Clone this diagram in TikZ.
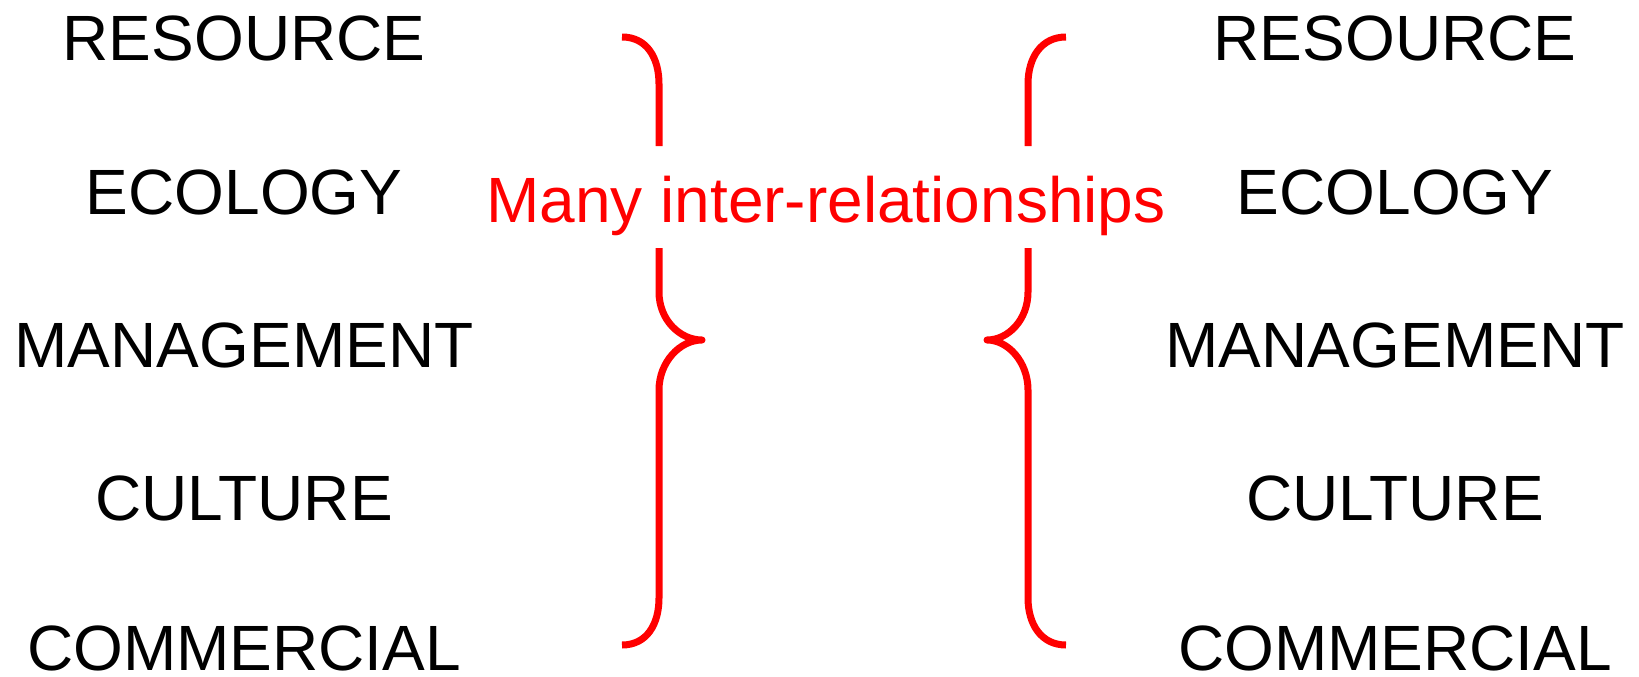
\documentclass[tikz,border=0pt]{standalone}
\usepackage{fontspec}
\setmainfont{Liberation Sans}
\begin{document}
\begin{tikzpicture}[x=1pt,y=-1pt,
  word/.style={anchor=base,inner sep=0pt,font=\fontsize{64}{70}\selectfont},
  brace/.style={draw=red,line width=7pt,line cap=butt,line join=round}]
\useasboundingbox[fill=white] (0,0) rectangle (1639,677);
% left column
\node[word] (lres) at (244,61) {RESOURCE};
\node[word] (leco) at (244,214) {ECOLOGY};
\node[word] (lman) at (244,367) {MANAGEMENT};
\node[word] (lcul) at (244,520) {CULTURE};
\node[word] (lcom) at (244,670) {COMMERCIAL};
% right column
\node[word] (rres) at (1395,61) {RESOURCE};
\node[word] (reco) at (1395,214) {ECOLOGY};
\node[word] (rman) at (1395,367) {MANAGEMENT};
\node[word] (rcul) at (1395,520) {CULTURE};
\node[word] (rcom) at (1395,670) {COMMERCIAL};
% middle label
\node[word,text=red] (mid) at (826,222) {Many inter-relationships};
% left brace
\draw[brace] (622,37) .. controls (647,37) and (659,58) .. (659,84) -- (659,146);
\draw[brace] (659,248) -- (659,292)
  .. controls (659,320) and (680,340) .. (702,340)
  .. controls (680,340) and (659,362) .. (659,390)
  -- (659,598) .. controls (659,624) and (647,645) .. (622,645);
% right brace
\draw[brace] (1066,37) .. controls (1041,37) and (1028,58) .. (1028,84) -- (1028,146);
\draw[brace] (1028,248) -- (1028,292)
  .. controls (1028,320) and (1008,340) .. (987,340)
  .. controls (1008,340) and (1028,362) .. (1028,390)
  -- (1028,598) .. controls (1028,624) and (1041,645) .. (1066,645);
\end{tikzpicture}
\end{document}
